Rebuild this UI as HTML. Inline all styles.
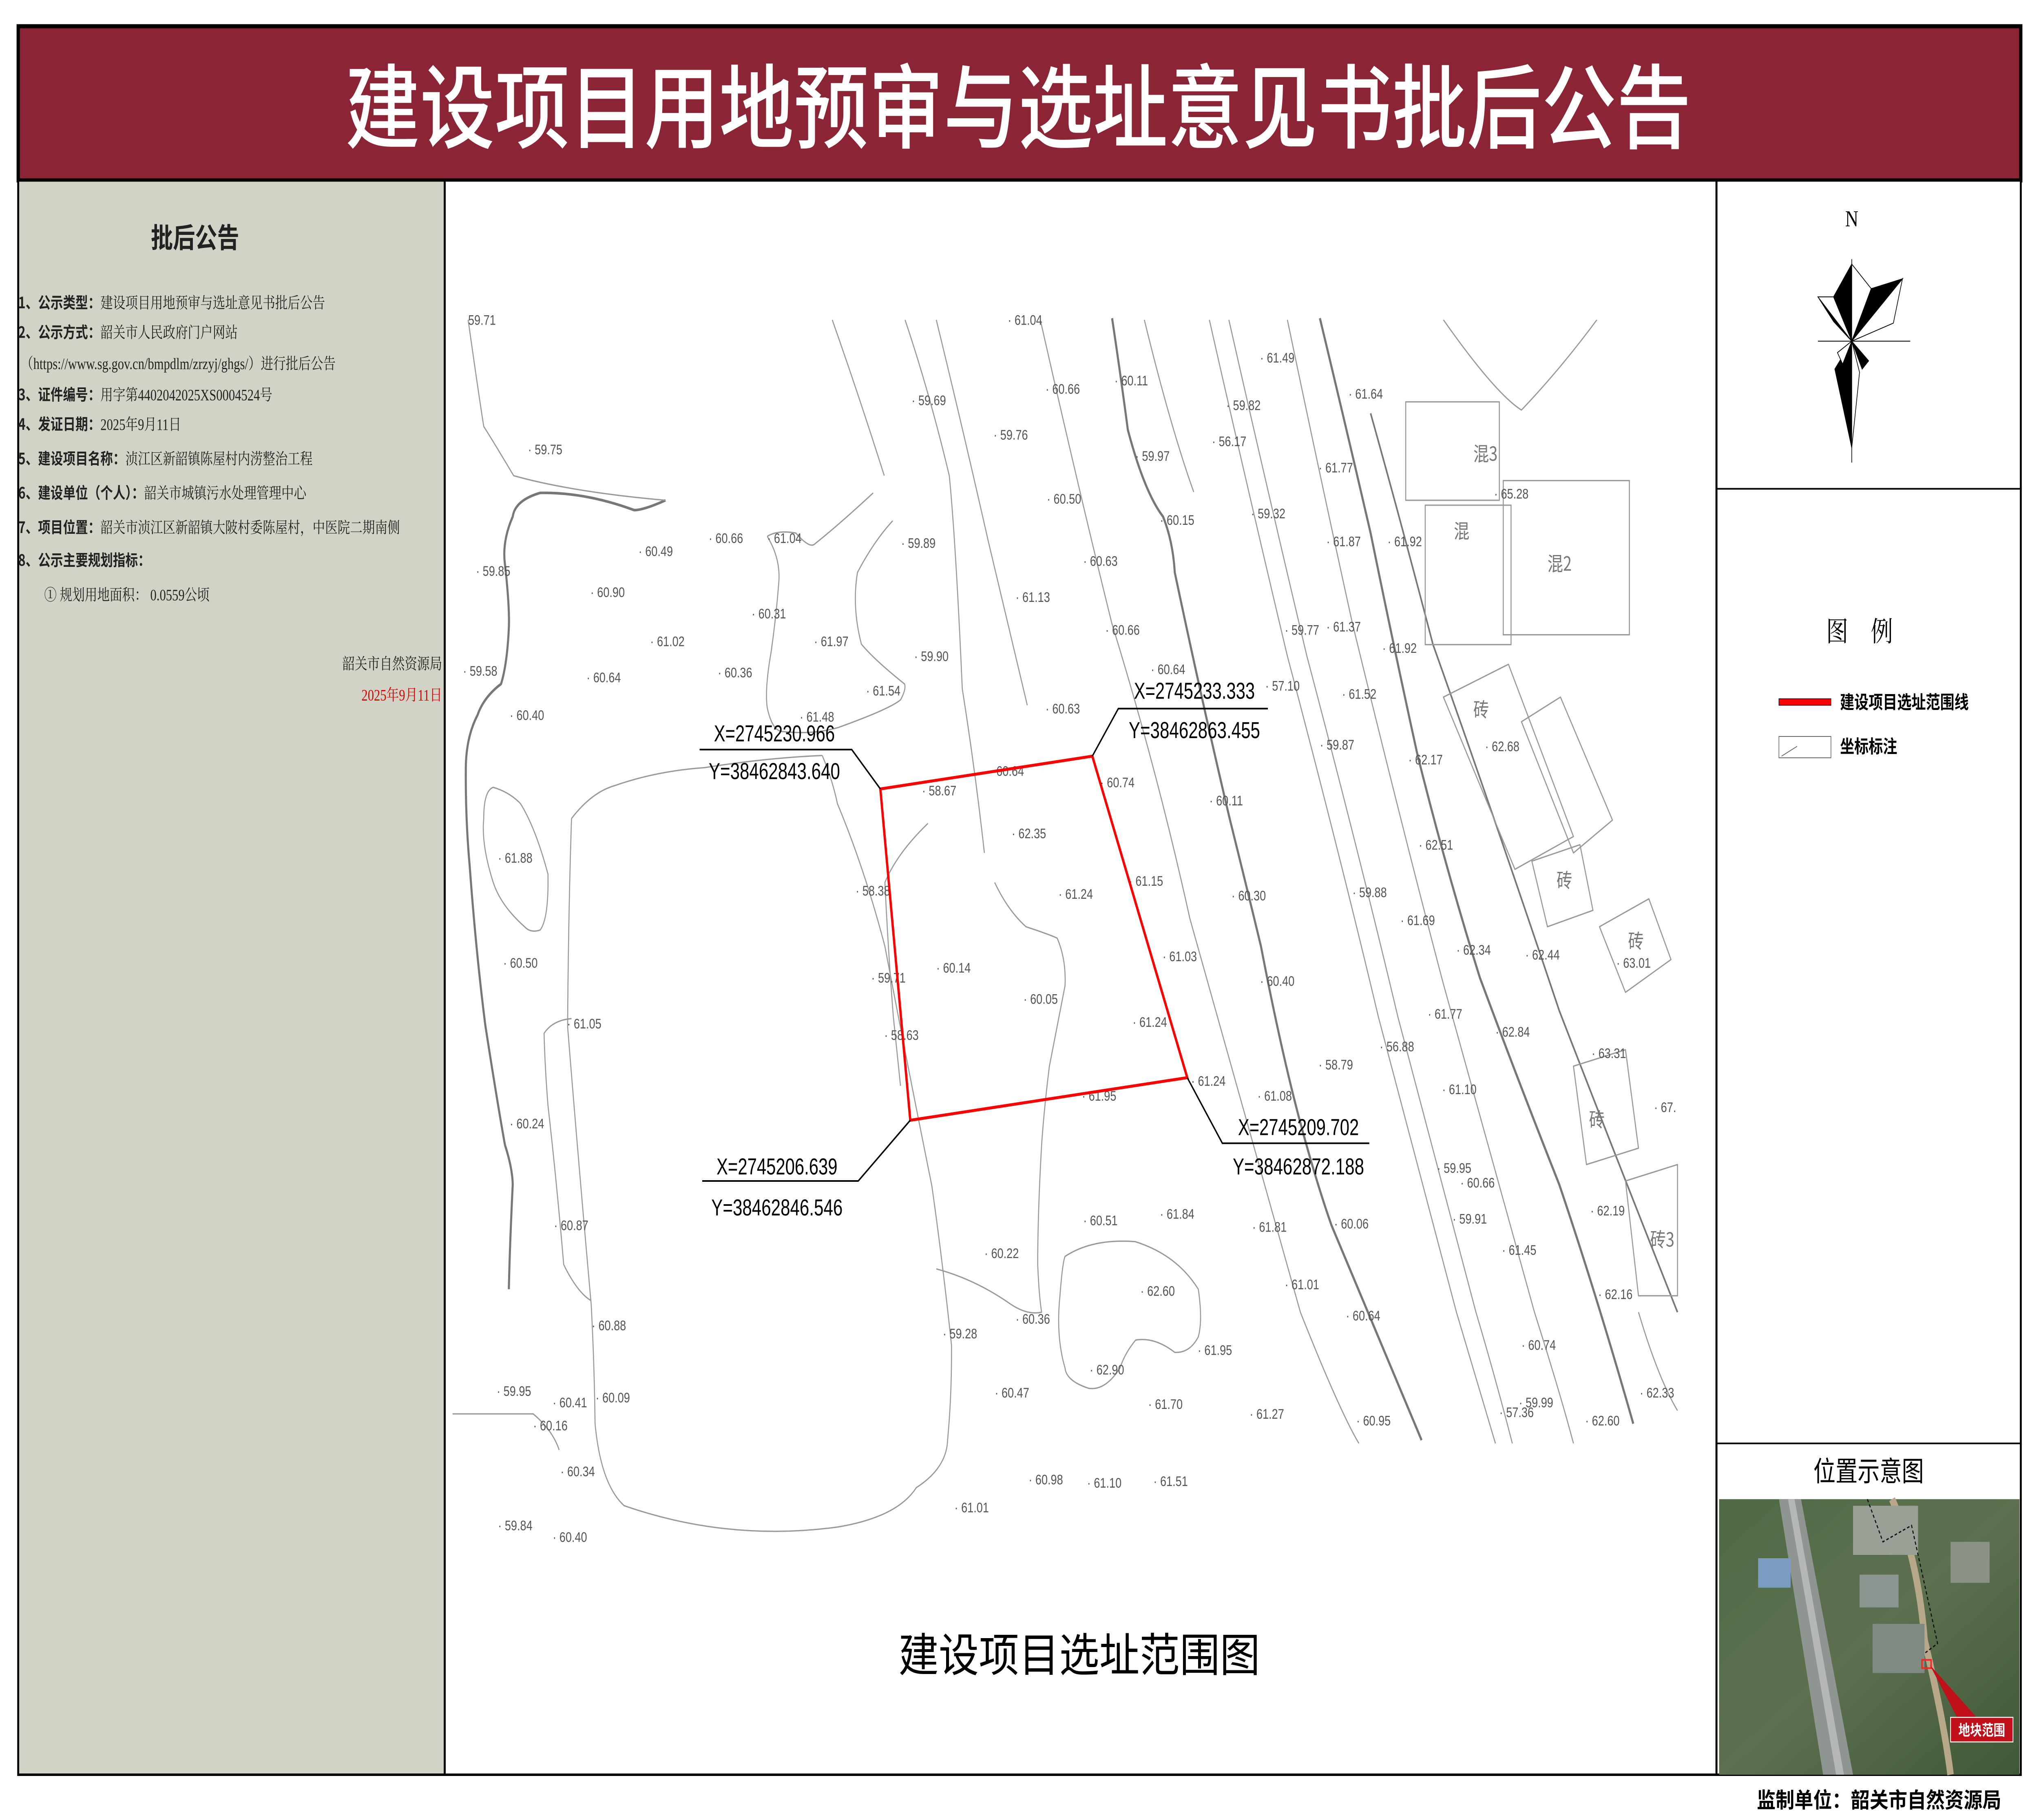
<!DOCTYPE html>
<html><head><meta charset="utf-8"><style>html,body{margin:0;padding:0;background:#fff;width:100%;height:100%;overflow:hidden}svg{display:block;width:100vw;height:100vh}</style></head>
<body>
<svg xmlns="http://www.w3.org/2000/svg" viewBox="0 0 1568 1109.6" preserveAspectRatio="none">
<rect x="0" y="0" width="1568" height="1109.6" fill="#fff"/>
<!-- title -->
<rect x="14" y="16" width="1540" height="94" fill="#8B2535" stroke="#000" stroke-width="2.5"/>
<text x="783" y="86" text-anchor="middle" font-family="'Noto Sans CJK SC',sans-serif" font-size="56" fill="#fff" font-weight="500" textLength="1035" lengthAdjust="spacingAndGlyphs">建设项目用地预审与选址意见书批后公告</text>
<!-- left panel -->
<rect x="14" y="110" width="328" height="972" fill="#d1d3c6" stroke="#000" stroke-width="1.5"/>
<text x="150" y="151" text-anchor="middle" font-family="'Noto Sans CJK SC',sans-serif" font-weight="bold" font-size="17" fill="#222">批后公告</text>
<g font-family="'Liberation Serif','Noto Serif CJK SC',serif" font-size="9.6" fill="#222">
<text x="14" y="188"><tspan font-family="'Noto Sans CJK SC',sans-serif" font-weight="bold">1、公示类型：</tspan>建设项目用地预审与选址意见书批后公告</text>
<text x="14" y="206"><tspan font-family="'Noto Sans CJK SC',sans-serif" font-weight="bold">2、公示方式：</tspan>韶关市人民政府门户网站</text>
<text x="16" y="225">（https://www.sg.gov.cn/bmpdlm/zrzyj/ghgs/）进行批后公告</text>
<text x="14" y="244"><tspan font-family="'Noto Sans CJK SC',sans-serif" font-weight="bold">3、证件编号：</tspan>用字第4402042025XS0004524号</text>
<text x="14" y="262"><tspan font-family="'Noto Sans CJK SC',sans-serif" font-weight="bold">4、发证日期：</tspan>2025年9月11日</text>
<text x="14" y="283"><tspan font-family="'Noto Sans CJK SC',sans-serif" font-weight="bold">5、建设项目名称：</tspan>浈江区新韶镇陈屋村内涝整治工程</text>
<text x="14" y="304"><tspan font-family="'Noto Sans CJK SC',sans-serif" font-weight="bold">6、建设单位（个人）：</tspan>韶关市城镇污水处理管理中心</text>
<text x="14" y="325"><tspan font-family="'Noto Sans CJK SC',sans-serif" font-weight="bold">7、项目位置：</tspan>韶关市浈江区新韶镇大陂村委陈屋村，中医院二期南侧</text>
<text x="14" y="345"><tspan font-family="'Noto Sans CJK SC',sans-serif" font-weight="bold">8、公示主要规划指标：</tspan></text>
<text x="34" y="366">① 规划用地面积：  0.0559公顷</text>
<text x="340" y="408" text-anchor="end">韶关市自然资源局</text>
<text x="340" y="427" text-anchor="end" fill="#e00000">2025年9月11日</text>
</g>
<!-- map frame -->
<rect x="342" y="110" width="978" height="972" fill="#fff" stroke="#000" stroke-width="1.5"/>
<g fill="none" stroke="#777" stroke-width="1.6" stroke-linejoin="round">
<path d="M511.8,305 Q495,311 487.7,311 Q450,300 415.4,300.5 Q396,305 394.3,315 Q386,330 388.3,344 Q392,370 391.3,383 Q390,405 385.3,417 Q372,425 367.2,436 Q358,450 358.2,470 Q358,500 361.2,528 Q366,580 373.2,625 Q382,670 388.3,698 Q394,712 394.3,722 Q392,760 391.3,786"/>
<path d="M855.2,194 Q862,230 867.3,262 Q880,300 894.4,315 Q902,330 903.4,349 Q925,430 945.6,499 Q960,545 969.7,577 Q985,640 999.8,684 Q1012,720 1023.9,747 Q1060,815 1093.2,878"/>
<path d="M1015,194 Q1035,260 1054,325 Q1072,395 1090,460 Q1112,530 1138,596 Q1168,660 1199,722 Q1228,790 1256,868"/>
<path d="M1054,252 Q1078,320 1102,393 Q1150,500 1199,616 Q1240,700 1290,800" stroke-width="1.2"/>
</g>
<g fill="none" stroke="#999" stroke-width="0.8" stroke-linejoin="round">
<path d="M439.5,499 Q455,483 472.6,479 Q505,470 541.9,468 Q590,462 632.3,460.6"/>
<path d="M439.5,499 Q437,560 436.5,626 Q445,710 454.6,795 Q457,830 457.6,868 Q462,905 480,918 Q560,940 644,931 Q690,925 704.6,907 Q728,895 728.7,878 Q732,850 731.7,820 Q725,770 716.6,723 Q698,650 680.5,577 Q665,530 644,490 Q640,475 632.3,460.6"/>
<path d="M379.3,480 Q392,483 400.3,490 Q412,505 421.4,533 Q422,560 415.4,567 Q408,569 403.4,565 Q385,552 379.3,538 Q370,515 372,499 Q372,482 379.3,480Z"/>
<path d="M590,327 Q600,340 599,354 Q597,375 593,397.5 Q588,420 590,431.5 Q594,446 602,446 Q625,448 644.4,443.6 Q685,432 692.6,426.6 Q697,420 695.6,417 Q672,402 662.4,392.7 Q655,370 659.4,349 Q672,330 686.5,317.5"/>
<path d="M590,327 Q598,323 612,325 Q622,334 626,332 Q645,320 671.5,300.5"/>
<path d="M819,766 Q840,755 873,757 Q905,765 921.5,786 Q925,805 921.5,815 Q915,825 903.4,824.5 Q888,815 873.3,817 Q865,825 861.3,834 Q850,848 837.2,846.4 Q820,842 819,834 Q812,815 815,791 Q817,770 819,766Z"/>
<path d="M764.9,538 Q775,555 789,565 Q808,570 813,572 Q820,585 819,601 Q812,630 807,650 Q803,675 801,698 Q798,740 798,771 Q799,790 801,800 Q790,802 777,795 Q750,780 720,773.6"/>
<path d="M713.6,502 Q690,520 680.5,538 Q683,580 687,620 Q691,650 692.5,662"/>
<path d="M439.5,621 Q425,622 418.4,630 Q419,650 421.4,674 Q428,720 433.5,771 Q444,788 454.6,793"/>
<path d="M360,195 Q368,240 372,260 Q380,270 395,290 Q440,300 511.8,305"/>
<path d="M696,195 Q715,240 730,290 Q735,330 740,420 Q750,470 757,520"/>
<path d="M640,195 Q660,240 680,290"/>
<path d="M720,195 Q740,260 760,330 Q775,380 790,430"/>
<path d="M800,195 Q830,300 855,380 Q890,470 915,560 Q950,660 1000,800 Q1030,860 1045,880"/>
<path d="M880,195 Q900,260 918,300"/>
<path d="M930,195 Q960,300 990,400 Q1030,520 1060,620 Q1090,710 1120,800 Q1135,840 1150,880"/>
<path d="M945,195 Q975,300 1005,400 Q1045,520 1075,620 Q1105,710 1135,800 Q1150,840 1163,880"/>
<path d="M990,195 Q1015,290 1040,380 Q1080,510 1110,600 Q1145,700 1180,800 Q1200,850 1210,880"/>
<path d="M1110,195 Q1150,240 1170,250 Q1200,225 1228,195"/>
<path d="M1260,800 Q1275,840 1290,860"/>
<path d="M348,862 L410,862 Q425,872 430,884"/>
<rect x="1081" y="245" width="72" height="60"/>
<rect x="1156" y="293" width="97" height="94"/>
<rect x="1096" y="308" width="66" height="85"/>
<path d="M1110,425 L1160,405 L1210,510 L1165,530Z"/>
<path d="M1170,440 L1200,425 L1240,500 L1210,520Z"/>
<path d="M1178,525 L1215,515 L1225,555 L1190,565Z"/>
<path d="M1230,565 L1268,548 L1285,585 L1250,605Z"/>
<path d="M1210,650 L1250,640 L1260,700 L1220,710Z"/>
<path d="M1250,720 L1290,710 L1290,790 L1260,790Z"/>
</g>
<g font-family="'Noto Sans CJK SC',sans-serif" font-size="12" fill="#777">
<text x="1133" y="281">混3</text><text x="1118" y="328">混</text><text x="1190" y="348">混2</text>
<text x="1133" y="437">砖</text><text x="1197" y="541">砖</text><text x="1252" y="578">砖</text><text x="1222" y="687">砖</text><text x="1269" y="760">砖3</text>
</g>
<!-- elevations -->
<g font-family="'Liberation Sans Narrow','Liberation Sans',sans-serif" font-size="8.5" fill="#555">
<text x="406" y="277">· 59.75</text><text x="366" y="351">· 59.85</text><text x="356" y="412">· 59.58</text><text x="392" y="439">· 60.40</text>
<text x="383" y="526">· 61.88</text><text x="387" y="590">· 60.50</text><text x="436" y="627">· 61.05</text><text x="392" y="688">· 60.24</text>
<text x="426" y="750">· 60.87</text><text x="455" y="811">· 60.88</text><text x="382" y="851">· 59.95</text><text x="425" y="858">· 60.41</text>
<text x="458" y="855">· 60.09</text><text x="410" y="872">· 60.16</text><text x="431" y="900">· 60.34</text><text x="383" y="933">· 59.84</text>
<text x="425" y="940">· 60.40</text><text x="491" y="339">· 60.49</text><text x="454" y="364">· 60.90</text><text x="500" y="394">· 61.02</text>
<text x="451" y="416">· 60.64</text><text x="545" y="331">· 60.66</text><text x="590" y="331">· 61.04</text><text x="578" y="377">· 60.31</text>
<text x="626" y="394">· 61.97</text><text x="552" y="413">· 60.36</text><text x="615" y="440">· 61.48</text><text x="666" y="424">· 61.54</text>
<text x="693" y="334">· 59.89</text><text x="703" y="403">· 59.90</text><text x="701" y="247">· 59.69</text><text x="764" y="268">· 59.76</text>
<text x="804" y="240">· 60.66</text><text x="805" y="307">· 60.50</text><text x="781" y="367">· 61.13</text><text x="833" y="345">· 60.63</text>
<text x="850" y="387">· 60.66</text><text x="885" y="411">· 60.64</text><text x="804" y="435">· 60.63</text><text x="857" y="235">· 60.11</text>
<text x="873" y="281">· 59.97</text><text x="892" y="320">· 60.15</text><text x="709" y="485">· 58.67</text><text x="761" y="473">· 60.64</text>
<text x="778" y="511">· 62.35</text><text x="814" y="548">· 61.24</text><text x="868" y="540">· 61.15</text><text x="846" y="480">· 60.74</text>
<text x="930" y="491">· 60.11</text><text x="658" y="546">· 58.38</text><text x="720" y="593">· 60.14</text><text x="670" y="599">· 59.71</text>
<text x="787" y="612">· 60.05</text><text x="894" y="586">· 61.03</text><text x="680" y="634">· 58.63</text><text x="871" y="626">· 61.24</text>
<text x="916" y="662">· 61.24</text><text x="832" y="671">· 61.95</text><text x="947" y="549">· 60.30</text><text x="969" y="601">· 60.40</text>
<text x="967" y="671">· 61.08</text><text x="1014" y="652">· 58.79</text><text x="1061" y="641">· 56.88</text><text x="969" y="221">· 61.49</text>
<text x="943" y="250">· 59.82</text><text x="932" y="272">· 56.17</text><text x="962" y="316">· 59.32</text><text x="1037" y="243">· 61.64</text>
<text x="1014" y="288">· 61.77</text><text x="1149" y="304">· 65.28</text><text x="1020" y="333">· 61.87</text><text x="1067" y="333">· 61.92</text>
<text x="988" y="387">· 59.77</text><text x="1020" y="385">· 61.37</text><text x="1063" y="398">· 61.92</text><text x="973" y="421">· 57.10</text>
<text x="1032" y="426">· 61.52</text><text x="1015" y="457">· 59.87</text><text x="1083" y="466">· 62.17</text><text x="1142" y="458">· 62.68</text>
<text x="1091" y="518">· 62.51</text><text x="1040" y="547">· 59.88</text><text x="1077" y="564">· 61.69</text><text x="1120" y="582">· 62.34</text>
<text x="1173" y="585">· 62.44</text><text x="1243" y="590">· 63.01</text><text x="1098" y="621">· 61.77</text><text x="1150" y="632">· 62.84</text>
<text x="1224" y="645">· 63.31</text><text x="1109" y="667">· 61.10</text><text x="1105" y="715">· 59.95</text><text x="1123" y="724">· 60.66</text>
<text x="1117" y="746">· 59.91</text><text x="1223" y="741">· 62.19</text><text x="1155" y="765">· 61.45</text><text x="1229" y="792">· 62.16</text>
<text x="1170" y="823">· 60.74</text><text x="1261" y="852">· 62.33</text><text x="1153" y="864">· 57.36</text><text x="1168" y="858">· 59.99</text>
<text x="1219" y="869">· 62.60</text><text x="1272" y="678">· 67.</text><text x="833" y="747">· 60.51</text><text x="892" y="743">· 61.84</text>
<text x="963" y="751">· 61.81</text><text x="1026" y="749">· 60.06</text><text x="757" y="767">· 60.22</text><text x="877" y="790">· 62.60</text>
<text x="988" y="786">· 61.01</text><text x="725" y="816">· 59.28</text><text x="781" y="807">· 60.36</text><text x="921" y="826">· 61.95</text>
<text x="1035" y="805">· 60.64</text><text x="838" y="838">· 62.90</text><text x="765" y="852">· 60.47</text><text x="883" y="859">· 61.70</text>
<text x="961" y="865">· 61.27</text><text x="1043" y="869">· 60.95</text><text x="791" y="905">· 60.98</text><text x="836" y="907">· 61.10</text>
<text x="887" y="906">· 61.51</text><text x="734" y="922">· 61.01</text><text x="775" y="198">· 61.04</text><text x="360" y="198">59.71</text>
</g>
<!-- red polygon -->
<polygon points="677,481 840,461 913,657 700,683" fill="none" stroke="#ff0000" stroke-width="1.8"/>
<!-- leaders -->
<g stroke="#000" stroke-width="1" fill="none">
<polyline points="677,481 655,457 538,457"/>
<polyline points="840,461 860,432 975,432"/>
<polyline points="913,657 940,697 1053,697"/>
<polyline points="700,683 660,720 540,720"/>
</g>
<g font-family="'Liberation Sans Narrow','Liberation Sans',sans-serif" font-size="14" fill="#000">
<text x="549" y="452" textLength="93" lengthAdjust="spacingAndGlyphs">X=2745230.966</text>
<text x="545" y="475" textLength="101" lengthAdjust="spacingAndGlyphs">Y=38462843.640</text>
<text x="872" y="426" textLength="93" lengthAdjust="spacingAndGlyphs">X=2745233.333</text>
<text x="868" y="450" textLength="101" lengthAdjust="spacingAndGlyphs">Y=38462863.455</text>
<text x="952" y="692" textLength="93" lengthAdjust="spacingAndGlyphs">X=2745209.702</text>
<text x="948" y="716" textLength="101" lengthAdjust="spacingAndGlyphs">Y=38462872.188</text>
<text x="551" y="716" textLength="93" lengthAdjust="spacingAndGlyphs">X=2745206.639</text>
<text x="547" y="741" textLength="101" lengthAdjust="spacingAndGlyphs">Y=38462846.546</text>
</g>
<text x="830" y="1019" text-anchor="middle" font-family="'Noto Sans CJK SC',sans-serif" font-size="28" fill="#000" textLength="278" lengthAdjust="spacingAndGlyphs">建设项目选址范围图</text>
<!-- right panel -->
<rect x="1320" y="110" width="234" height="972" fill="#fff" stroke="#000" stroke-width="1.5"/>
<line x1="1320" y1="298" x2="1554" y2="298" stroke="#000" stroke-width="1"/>
<line x1="1320" y1="880" x2="1554" y2="880" stroke="#000" stroke-width="1"/>
<text x="1424" y="138" text-anchor="middle" font-family="'Liberation Serif',serif" font-size="14" fill="#000">N</text>
<g stroke="#000" stroke-width="0.5">
<line x1="1398" y1="208" x2="1469" y2="208"/>
<line x1="1424" y1="158" x2="1424" y2="282"/>
<polygon points="1410,181 1424,161 1424,208" fill="#000"/>
<polygon points="1424,161 1439,176 1424,208" fill="#fff"/>
<polygon points="1439,176 1463,170 1424,208" fill="#000"/>
<polygon points="1463,170 1456,197 1424,208" fill="#fff"/>
<polygon points="1398,181 1424,208 1410,196" fill="#000"/>
<polygon points="1398,181 1410,181 1424,208" fill="#fff"/>
<polygon points="1411,225 1424,208 1424,273" fill="#000"/>
<polygon points="1424,208 1430,227 1424,273" fill="#fff"/>
<polygon points="1424,208 1432,225 1437,220" fill="#000"/>
<polygon points="1424,208 1413,215 1417,222" fill="#fff"/>
</g>
<text x="1430" y="391" text-anchor="middle" font-family="'Noto Serif CJK SC',serif" font-size="17" fill="#000" xml:space="preserve">图    例</text>
<rect x="1368" y="426" width="40" height="4" fill="#ff0000" stroke="#000" stroke-width="0.4"/>
<text x="1415" y="432" font-family="'Noto Sans CJK SC',sans-serif" font-size="11" font-weight="bold" fill="#000">建设项目选址范围线</text>
<rect x="1368" y="449" width="40" height="13" fill="#fff" stroke="#666" stroke-width="0.5"/>
<line x1="1370" y1="461" x2="1382" y2="455" stroke="#666" stroke-width="0.5"/>
<text x="1415" y="459" font-family="'Noto Sans CJK SC',sans-serif" font-size="11" font-weight="bold" fill="#000">坐标标注</text>
<text x="1437" y="903" text-anchor="middle" font-family="'Noto Sans CJK SC',sans-serif" font-size="17" fill="#000">位置示意图</text>
<!-- satellite -->
<defs><linearGradient id="sat" x1="0" y1="0" x2="1" y2="1"><stop offset="0" stop-color="#4f6a45"/><stop offset="0.5" stop-color="#5d7050"/><stop offset="1" stop-color="#3f5836"/></linearGradient></defs>
<rect x="1322" y="914" width="231" height="168" fill="url(#sat)"/>
<polygon points="1368,914 1385,914 1425,1082 1402,1082" fill="#8f9590"/>
<polygon points="1375,914 1380,914 1418,1082 1412,1082" fill="#b5b8b4"/>
<path d="M1455,914 Q1475,950 1480,1000 Q1495,1050 1500,1082" stroke="#b8a88a" stroke-width="5" fill="none"/>
<rect x="1425" y="918" width="50" height="30" fill="#9aa095"/>
<rect x="1352" y="950" width="25" height="18" fill="#7b9cc0"/>
<rect x="1430" y="960" width="30" height="20" fill="#8c9590"/>
<rect x="1440" y="990" width="40" height="30" fill="#7f8a80"/>
<rect x="1500" y="940" width="30" height="25" fill="#8a9288"/>
<path d="M1436,914 L1448,940 L1470,930 L1490,1002 L1480,1008" stroke="#111" stroke-width="0.8" stroke-dasharray="2,1.5" fill="none"/>
<rect x="1478" y="1012" width="7" height="5" fill="none" stroke="#ff2020" stroke-width="1"/>
<polygon points="1484,1015 1520,1047 1505,1047" fill="#c0101a"/>
<rect x="1500" y="1047" width="48" height="15" fill="#c0101a" stroke="#fff" stroke-width="0.6"/>
<text x="1524" y="1058" text-anchor="middle" font-family="'Noto Sans CJK SC',sans-serif" font-size="9" font-weight="bold" fill="#fff">地块范围</text>
<text x="1445" y="1102" text-anchor="middle" font-family="'Noto Sans CJK SC',sans-serif" font-size="13" font-weight="bold" fill="#000" textLength="188" lengthAdjust="spacingAndGlyphs">监制单位：韶关市自然资源局</text>
</svg>
</body></html>
